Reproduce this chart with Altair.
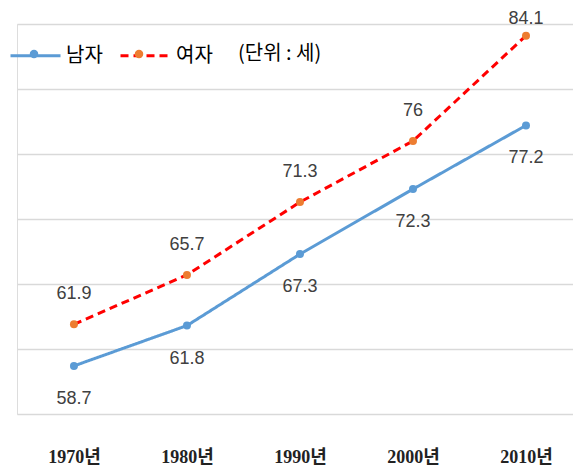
import altair as alt
import pandas as pd

year_nums = [1970, 1980, 1990, 2000, 2010]
year_labels = ["1970년", "1980년", "1990년", "2000년", "2010년"]
series = ["남자", "여자"]
male = [58.7, 61.8, 67.3, 72.3, 77.2]
female = [61.9, 65.7, 71.3, 76, 84.1]
unit_text = ["(단위 : 세)"]
grid_values = [55, 60, 65, 70, 75, 80, 85]

# marker legend uses its own (space-suffixed) keys so it is not merged with the line legend
dot_keys = [s + " " for s in series]

rows = []
for y, v in zip(year_nums, male):
    rows.append({"year": y, "series": series[0], "series_dot": dot_keys[0], "value": v, "label": f"{v:g}"})
for y, v in zip(year_nums, female):
    rows.append({"year": y, "series": series[1], "series_dot": dot_keys[1], "value": v, "label": f"{v:g}"})
df = pd.DataFrame(rows)

KFONT = "Noto Sans CJK KR"
NFONT = "Liberation Sans"

label_map = "{" + ",".join(f"'{n}':'{l}'" for n, l in zip(year_nums, year_labels)) + "}"

legend_common = dict(
    title=None, orient="none", legendX=-8, legendY=5, direction="horizontal",
    symbolSize=2500, labelFont=KFONT, labelFontSize=20, labelColor="#000000",
    labelOffset=4,
)
line_legend = alt.Legend(symbolType="stroke", symbolStrokeWidth=3, columnPadding=11,
                         **legend_common)
dot_path = "M -0.17,0 A 0.17,0.17 0 1,0 0.17,0 A 0.17,0.17 0 1,0 -0.17,0 Z"
dot_legend = alt.Legend(symbolType=dot_path, symbolStrokeWidth=0, symbolOpacity=1,
                        labelExpr="''", columnPadding=51, **legend_common)

base = alt.Chart(df).encode(
    x=alt.X("year:Q", title=None,
            scale=alt.Scale(domain=[1964.96, 2014.16], nice=False, zero=False),
            axis=alt.Axis(values=year_nums, labelExpr=f"{label_map}[datum.value]",
                          ticks=False, domain=False, grid=False,
                          labelPadding=34, labelFont="Liberation Serif, Noto Sans CJK KR",
                          labelFontSize=18, labelFontWeight="bold", labelColor="#222222")),
    y=alt.Y("value:Q", title=None,
            scale=alt.Scale(domain=[55, 85], nice=False, zero=False),
            axis=alt.Axis(values=grid_values, labels=False, ticks=False, domain=False,
                          grid=True, gridColor="#d9d9d9", gridWidth=1.5)),
)

lines = base.mark_line(strokeWidth=3).encode(
    color=alt.Color("series:N", scale=alt.Scale(domain=series, range=["#5B9BD5", "#FF0000"]),
                    legend=line_legend),
    strokeDash=alt.StrokeDash("series:N", scale=alt.Scale(domain=series, range=[[1, 0], [8, 5]]),
                              legend=line_legend),
)

points = base.mark_circle(size=64, opacity=1).encode(
    fill=alt.Fill("series_dot:N", scale=alt.Scale(domain=dot_keys, range=["#5B9BD5", "#ED7D31"]),
                  legend=dot_legend),
)

text_style = dict(font=NFONT, fontSize=18, color="#404040", baseline="middle")

male_labels = base.transform_filter(alt.datum.series == series[0]).mark_text(
    dy=33, **text_style).encode(text="label:N")
female_labels = base.transform_filter(
    (alt.datum.series == series[1]) & (alt.datum.year != year_nums[-1])
).mark_text(dy=-30, **text_style).encode(text="label:N")
female_last = base.transform_filter(
    (alt.datum.series == series[1]) & (alt.datum.year == year_nums[-1])
).mark_text(dy=-17, **text_style).encode(text="label:N")

unit = alt.Chart(pd.DataFrame({"t": unit_text})).mark_text(
    align="left", baseline="middle", font=KFONT, fontSize=20, color="#000000"
).encode(x=alt.value(221), y=alt.value(30), text="t:N")

chart = alt.layer(lines, points, male_labels, female_labels, female_last, unit).properties(
    width=556, height=390,
    autosize=alt.AutoSizeParams(type="none"),
    padding={"left": 9, "top": 16, "right": 0, "bottom": 60},
).configure_view(stroke=None).configure(background="white")

chart.save("out.html", embed_options={"renderer": "svg", "actions": False})
